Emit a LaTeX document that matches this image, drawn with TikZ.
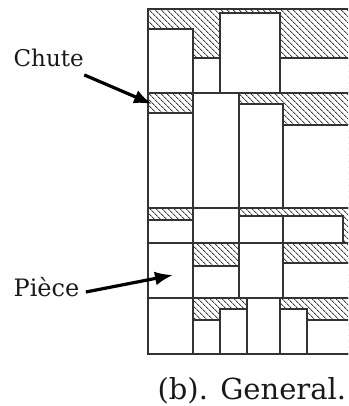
\documentclass[tikz,border=0pt]{standalone}
\usepackage{fontspec}
\setmainfont{DejaVu Serif}
\usetikzlibrary{arrows.meta,patterns.meta}

\begin{document}
\begin{tikzpicture}[x=1pt, y=-1pt, line width=1.2pt,
  piece/.style={draw=black!80, fill=white},
  chute/.style={pattern={Lines[angle=-45,distance=4pt,line width=1pt]}, pattern color=black!75},
  pointer/.style={line width=3.2pt, -{Latex[length=18pt,width=14pt]}},
  note/.style={text=black!90, inner sep=0pt, anchor=base west}]

  \useasboundingbox (0,0) rectangle (348,406);

  \begin{scope}
    \clip (140,0) rectangle (348,360);

    % The whole sheet is scrap until a piece covers it
    \fill[chute] (148,9) rectangle (360,354);

    % Strip 1
    \draw[piece] (148,29) rectangle (193,93);
    \draw[piece] (193,58) rectangle (220,93);
    \draw[piece] (220,13) rectangle (280,93);
    \draw[piece] (280,58) rectangle (360,93);

    % Strip 2
    \draw[piece] (148,113) rectangle (193,208);
    \draw[piece] (193,93) rectangle (239,208);
    \draw[piece] (239,104) rectangle (283,208);
    \draw[piece] (283,125) rectangle (360,208);

    % Strip 3
    \draw[piece] (148,220) rectangle (193,243);
    \draw[piece] (193,208) rectangle (239,243);
    \draw[piece] (239,216) rectangle (283,243);
    \draw[piece] (283,216) rectangle (343,243);

    % Strip 4
    \draw[piece] (148,243) rectangle (193,298);
    \draw[piece] (193,266) rectangle (239,298);
    \draw[piece] (239,243) rectangle (283,298);
    \draw[piece] (283,263) rectangle (360,298);

    % Strip 5
    \draw[piece] (148,298) rectangle (193,354);
    \draw[piece] (193,320) rectangle (220,354);
    \draw[piece] (220,309) rectangle (247,354);
    \draw[piece] (247,298) rectangle (280,354);
    \draw[piece] (280,309) rectangle (307,354);
    \draw[piece] (307,320) rectangle (360,354);

    % Sheet outline and the cuts between strips
    \draw[black!80] (360,9) -- (148,9) -- (148,354) -- (360,354);
    \foreach \y in {93,208,243,298}
      \draw[black!80] (148,\y) -- (360,\y);
  \end{scope}

  % Labels and their arrows
  \node[note, font=\fontsize{23}{28}\selectfont] (chute) at (13,67) {Chute};
  \node[note, font=\fontsize{24}{29}\selectfont] (piece) at (13,296) {Pièce};
  \coordinate (chutetip) at (152,104);
  \coordinate (piecetip) at (173,275);
  \draw[pointer] ([shift={(0,7)}]chute.south east) -- (chutetip);
  \draw[pointer] ([shift={(6,-4)}]piece.base east) -- (piecetip);

  % Caption
  \node[note, font=\fontsize{29}{34}\selectfont] (caption) at (157,399) {(b). General.};

\end{tikzpicture}
\end{document}
